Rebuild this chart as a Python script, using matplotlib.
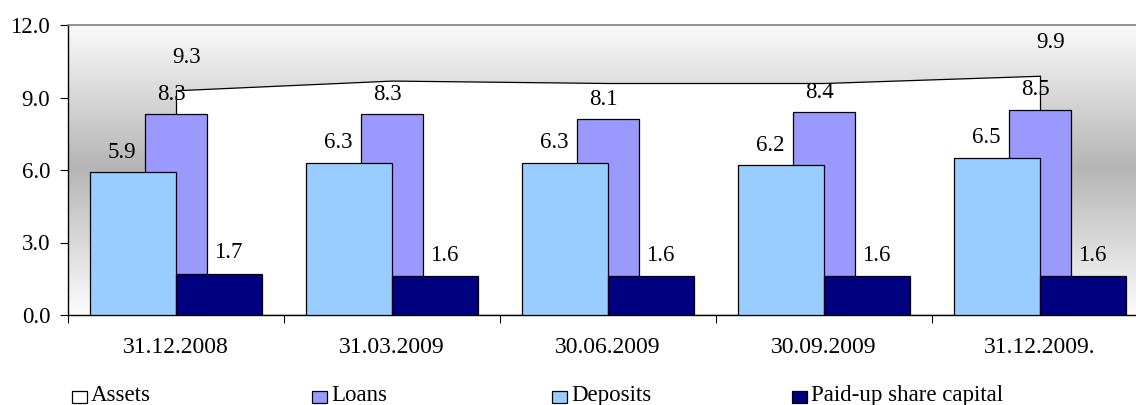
import numpy as np
import matplotlib
matplotlib.use("Agg")
import matplotlib.pyplot as plt
from matplotlib.patches import Rectangle

plt.rcParams['font.family'] = ['Liberation Serif', 'DejaVu Serif']

categories = ["31.12.2008", "31.03.2009", "30.06.2009", "30.09.2009", "31.12.2009."]
assets = [9.3, 9.7, 9.6, 9.6, 9.9]
loans = [8.3, 8.3, 8.1, 8.4, 8.5]
deposits = [5.9, 6.3, 6.3, 6.2, 6.5]
paid_up = [1.7, 1.6, 1.6, 1.6, 1.6]
series_names = ["Assets", "Loans", "Deposits", "Paid-up share capital"]
yticks = [0, 3, 6, 9, 12]

W, H = 1136, 405
FS = 16.5
fig = plt.figure(figsize=(W / 100, H / 100), dpi=100)
ax = fig.add_axes([68 / W, 90 / H, 1080 / W, 290 / H])

x = np.arange(len(categories))

# gradient background
ys = np.linspace(0, 12, 300)
g = 0.71 + 0.27 * np.clip(np.abs(ys - 6.1) / 5.9, 0, 1)
img = np.dstack([g, g, g]).reshape(300, 1, 3)
ax.imshow(img, origin='lower', extent=[-0.5, 4.5, 0, 12], aspect='auto',
          zorder=0, interpolation='bilinear')

lw = 0.9
ax.fill_between(x, 0, assets, facecolor='white', edgecolor='black', lw=lw, zorder=1)
ax.bar(x, loans, width=0.285, color='#9999FF', edgecolor='black', lw=lw, zorder=2)
ax.bar(x - 0.2, deposits, width=0.4, color='#99CCFF', edgecolor='black', lw=lw, zorder=3)
ax.bar(x + 0.2, paid_up, width=0.4, color='#000080', edgecolor='black', lw=lw, zorder=3)

ax.set_xlim(-0.5, 4.5)
ax.set_ylim(0, 12)

def lab(xs, vals, dx, dy):
    for xi, v in zip(xs, vals):
        ax.annotate(f"{v:.1f}", (xi + dx, v), xytext=(0, dy), textcoords='offset pixels',
                    ha='center', va='center', fontsize=FS, zorder=5)

lab(x, deposits, -0.25, 20)
lab(x, loans, -0.02, 20)
lab(x, paid_up, 0.24, 21)
for i in (0, len(x) - 1):
    ax.annotate(f"{assets[i]:.1f}", (x[i] + 0.05, assets[i]), xytext=(0, 33),
                textcoords='offset pixels', ha='center', va='center', fontsize=FS, zorder=5)

ax.set_yticks(yticks)
ax.set_yticklabels([f"{v:.1f}" for v in yticks], fontsize=FS)
ax.set_xticks(np.arange(-0.5, 5, 1))
ax.set_xticklabels([])
ax.set_xticks(x, minor=True)
ax.set_xticklabels(categories, minor=True, fontsize=17)
ax.tick_params(axis='x', which='major', direction='out', length=5.8, width=0.8)
ax.tick_params(axis='x', which='minor', length=0, pad=16)
ax.tick_params(axis='y', direction='out', length=5.8, width=0.8, pad=7)

for s in ('left', 'bottom'):
    ax.spines[s].set_color('black')
    ax.spines[s].set_linewidth(1.0)
ax.spines['top'].set_color('#808080')
ax.spines['top'].set_linewidth(1.2)
ax.spines['right'].set_visible(False)

# legend
colors = ['white', '#9999FF', '#99CCFF', '#000080']
for i, (name, c) in enumerate(zip(series_names, colors)):
    bx = 72 + 240 * i
    fig.add_artist(Rectangle((bx / W, 2 / H), 15 / W, 12 / H, transform=fig.transFigure,
                             facecolor=c, edgecolor='black', lw=0.9))
    fig.text((bx + 19) / W, 4 / H, name, fontsize=FS, ha='left', va='baseline')

fig.savefig("out.png", dpi=100)
